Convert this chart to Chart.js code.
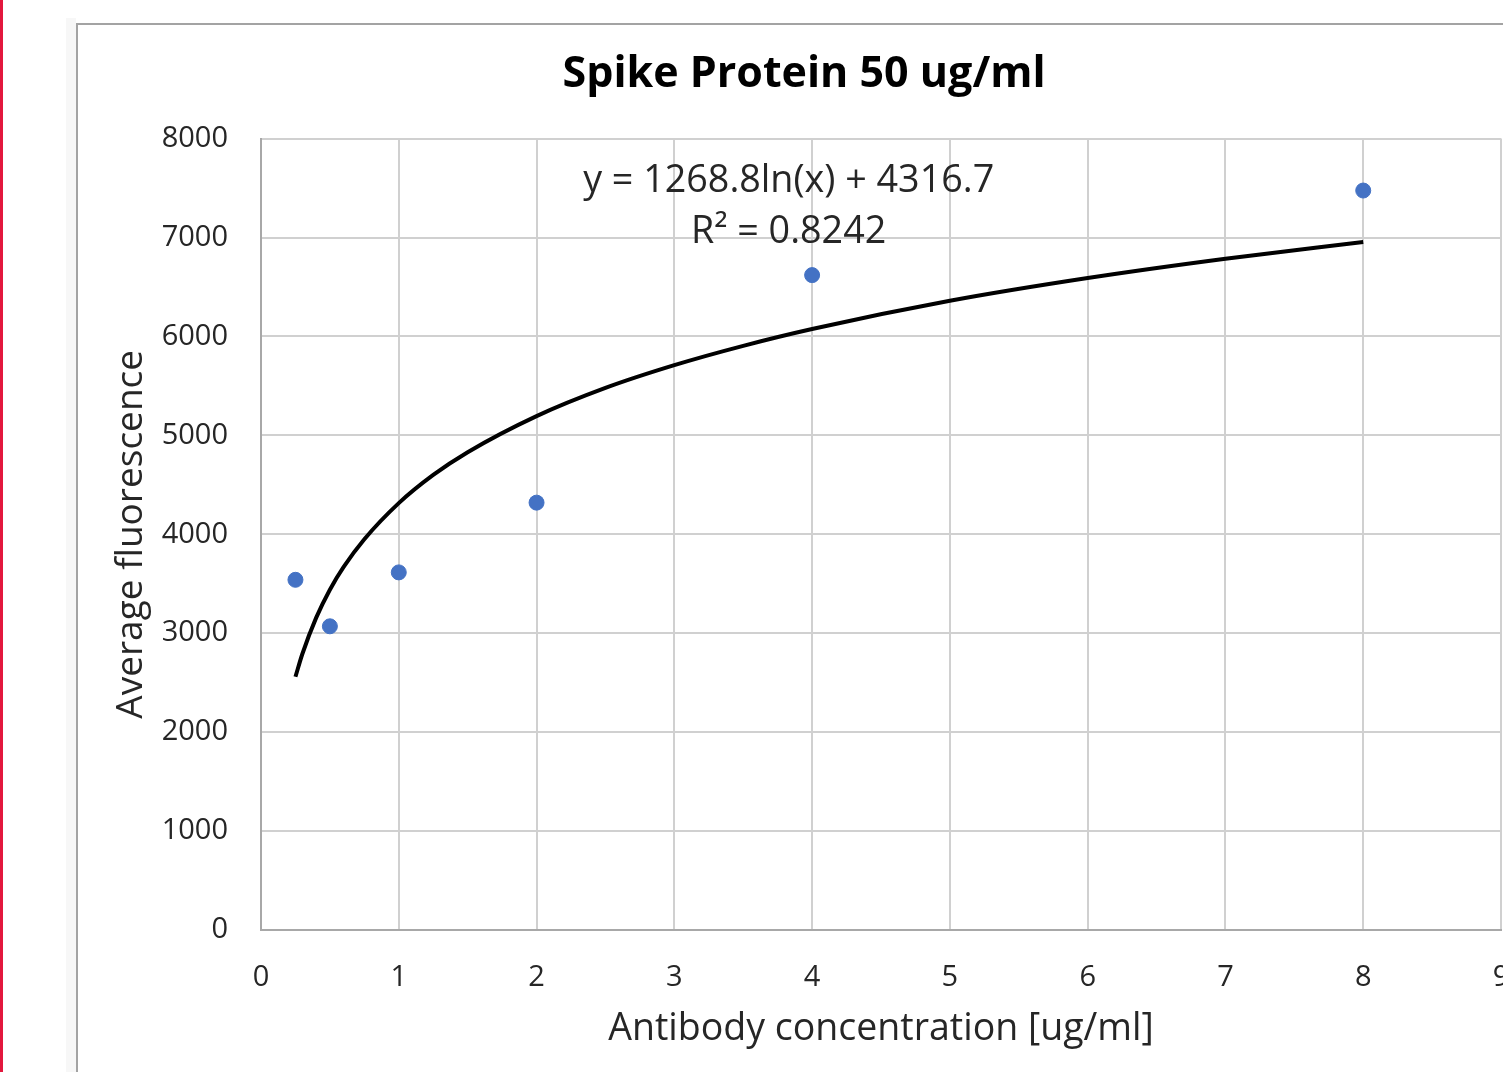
<!DOCTYPE html>
<html>
<head>
<meta charset="utf-8">
<script src="https://cdn.jsdelivr.net/npm/chart.js@4.4.0/dist/chart.umd.min.js"></script>
<style>
  html, body { margin: 0; padding: 0; background: #fff; overflow: hidden; width: 1503px; height: 1072px; }
  #redline { position: absolute; left: 0; top: 0; width: 3px; height: 1072px; background: #e3173d; }
  #shade { position: absolute; left: 66px; top: 18px; width: 10px; height: 1100px; background: #f7f7f7; }
  #frame { position: absolute; left: 76px; top: 23px; width: 1500px; height: 1100px; border: 2px solid #a3a3a3; background: #fff; }
  #spike { position: absolute; left: 0; top: 0; }
</style>
</head>
<body>
<div id="redline"></div>
<div id="shade"></div>
<div id="frame"><canvas id="spike" width="1462" height="1040"></canvas></div>
<script>
// measured points
var concentration = [0.25, 0.5, 1, 2, 4, 8];
var fluorescence = [3540, 3070, 3615, 4320, 6620, 7475];

// log trendline
var trendX = [0.25, 0.3, 0.4, 0.5, 0.6, 0.75, 1, 1.25, 1.5, 2, 2.5, 3, 3.5, 4, 5, 6, 7, 8];
var trendY = [2560, 2790, 3155, 3440, 3670, 3950, 4315, 4600, 4830, 5195, 5480, 5710, 5905, 6075, 6360, 6590, 6785, 6955];

var yTicks = [0, 1000, 2000, 3000, 4000, 5000, 6000, 7000, 8000];
var xTicks = [0, 1, 2, 3, 4, 5, 6, 7, 8, 9];

var equationText = ['y = 1268.8ln(x) + 4316.7', 'R\u00B2 = 0.8242'];

var points = [];
for (var i = 0; i < concentration.length; i++) {
  points.push({x: concentration[i], y: fluorescence[i]});
}
var trend = [];
for (var j = 0; j < trendX.length; j++) {
  trend.push({x: trendX[j], y: trendY[j]});
}

var equationPlugin = {
  id: 'equation',
  afterDatasetsDraw: function(chart) {
    var c = chart.ctx;
    var xs = chart.scales.x, ys = chart.scales.y;
    c.save();
    c.font = '37.7px "Open Sans"';
    c.fillStyle = '#262626';
    c.textAlign = 'center';
    c.textBaseline = 'middle';
    c.fillText(equationText[0], xs.getPixelForValue(3.83), ys.getPixelForValue(7570));
    c.fillText(equationText[1], xs.getPixelForValue(3.83), ys.getPixelForValue(7050));
    c.restore();
  }
};

var ctx = document.getElementById('spike');
var chartData = {
  datasets: [{
    label: 'trend',
    type: 'line',
    data: trend,
    borderColor: '#000',
    borderWidth: 4,
    pointRadius: 0,
    fill: false,
    cubicInterpolationMode: 'monotone',
    order: 2
  }, {
    label: 'data',
    type: 'scatter',
    data: points,
    backgroundColor: '#4472c4',
    borderColor: '#4472c4',
    pointRadius: 7.5,
    order: 1
  }]
};

var chartOptions = {
  responsive: false,
  animation: false,
  devicePixelRatio: 1,
  layout: { padding: { left: 29, right: 39, top: 0, bottom: 9 } },
  plugins: {
    legend: { display: false },
    tooltip: { enabled: false },
    title: {
      display: true,
      text: 'Spike Protein 50 ug/ml',
      color: '#000',
      font: { family: 'Open Sans', size: 43, weight: 'bold', lineHeight: 1.2 },
      padding: { top: 24, bottom: 38 }
    }
  },
  scales: {
    x: {
      type: 'linear',
      min: 0, max: 9,
      afterBuildTicks: function(s) { s.ticks = xTicks.map(function(v) { return {value: v}; }); },
      afterFit: function(s) { s.height = 126; },
      grid: { color: '#d0d0d0', lineWidth: 2, drawTicks: false },
      border: { color: '#a8a8a8', width: 2 },
      ticks: { padding: 30, color: '#262626', font: { family: 'Open Sans', size: 29 } },
      title: {
        display: true,
        text: 'Antibody concentration [ug/ml]',
        color: '#262626',
        font: { family: 'Open Sans', size: 37.5 },
        padding: 4
      }
    },
    y: {
      type: 'linear',
      min: 0, max: 8000,
      afterBuildTicks: function(s) { s.ticks = yTicks.map(function(v) { return {value: v}; }); },
      afterFit: function(s) { s.width = 154; },
      grid: { color: '#d0d0d0', lineWidth: 2, drawTicks: false },
      border: { color: '#a8a8a8', width: 2 },
      ticks: {
        padding: 33, color: '#262626', font: { family: 'Open Sans', size: 29 },
        callback: function(v) { return String(v); }
      },
      title: {
        display: true,
        text: 'Average fluorescence',
        color: '#262626',
        font: { family: 'Open Sans', size: 37 },
        padding: 2
      }
    }
  }
};

var config = {
  type: 'scatter',
  data: chartData,
  options: chartOptions,
  plugins: [equationPlugin]
};
var spikeChart = new Chart(ctx, config);
</script>
</body>
</html>
